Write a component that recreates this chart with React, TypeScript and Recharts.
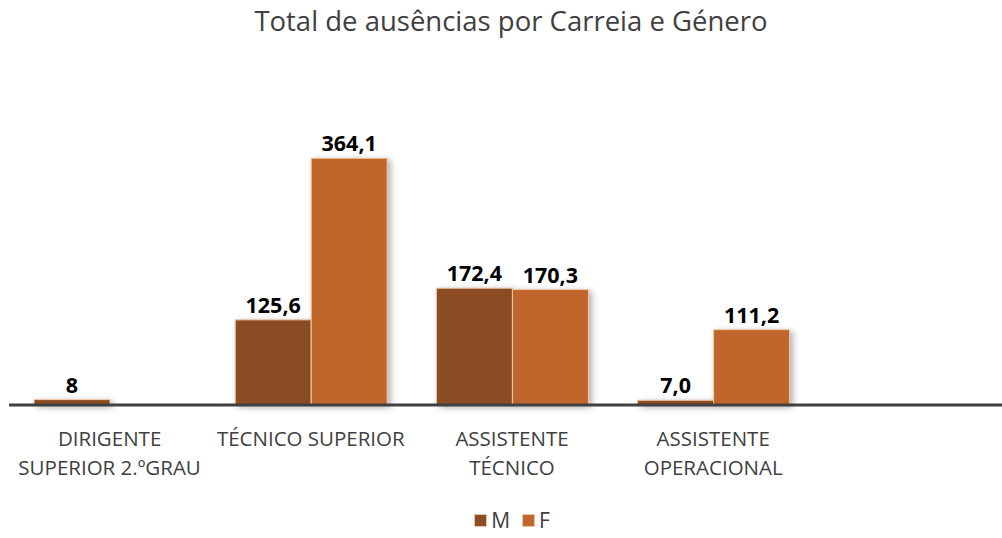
import React from "react";
import { BarChart, Bar, XAxis, YAxis, Legend, LabelList, Rectangle } from "recharts";

const categories = [
  "DIRIGENTE\nSUPERIOR 2.ºGRAU",
  "TÉCNICO SUPERIOR",
  "ASSISTENTE\nTÉCNICO",
  "ASSISTENTE\nOPERACIONAL",
  "",
];
const maleValues: (number | null)[] = [8, 125.6, 172.4, 7.0, null];
const femaleValues: (number | null)[] = [null, 364.1, 170.3, 111.2, null];
const maleLabels = ["8", "125,6", "172,4", "7,0", ""];
const femaleLabels = ["", "364,1", "170,3", "111,2", ""];

const data = categories.map((name, i) => ({
  name,
  M: maleValues[i],
  F: femaleValues[i],
  mLabel: maleLabels[i],
  fLabel: femaleLabels[i],
}));

const M_COLOR = "#8B4C24";
const F_COLOR = "#C0652B";
const TEXT = "#404040";
const FONT = "'Open Sans', sans-serif";

function CategoryTick({ x, y, payload }: any) {
  const lines = String(payload.value).split("\n");
  return (
    <text x={x} y={y} textAnchor="middle" fill={TEXT} fontSize={20.5} fontFamily={FONT}>
      {lines.map((l, i) => (
        <tspan key={i} x={x} dy={i === 0 ? 33 : 29}>
          {l}
        </tspan>
      ))}
    </text>
  );
}

function ShadowBar(props: any) {
  return (
    <Rectangle
      {...props}
      stroke="#F3CBAB"
      strokeWidth={1}
      style={{ filter: "drop-shadow(3px 2px 3px rgba(0,0,0,0.3))" }}
    />
  );
}

function LegendContent() {
  const items = [
    { label: "M", color: M_COLOR },
    { label: "F", color: F_COLOR },
  ];
  return (
    <div style={{ display: "flex", justifyContent: "center", alignItems: "center", height: 36, fontFamily: FONT, color: TEXT, fontSize: 21 }}>
      {items.map((it) => (
        <div key={it.label} style={{ display: "flex", alignItems: "center", margin: "0 6px" }}>
          <span style={{ display: "inline-block", width: 11, height: 11, background: it.color, border: "1px solid #F0C4A4", marginRight: 4 }} />
          <span>{it.label}</span>
        </div>
      ))}
    </div>
  );
}

export default function App() {
  return (
    <div style={{ position: "fixed", left: 0, top: 0, width: 1002, height: 538, background: "#fff", overflow: "hidden" }}>
      <div
        style={{
          position: "absolute",
          top: 2,
          left: 0,
          width: 1022,
          textAlign: "center",
          fontFamily: FONT,
          fontSize: 27.5,
          color: TEXT,
        }}
      >
        Total de ausências por Carreia e Género
      </div>
      <BarChart
        width={1002}
        height={538}
        data={data}
        margin={{ top: 100, right: -13, left: 9, bottom: 0 }}
        barGap={0}
        barCategoryGap={25}
      >
        <YAxis hide domain={[0, 450]} />
        <XAxis
          dataKey="name"
          axisLine={{ stroke: TEXT, strokeWidth: 3 }}
          tickLine={false}
          interval={0}
          height={97}
          tick={<CategoryTick />}
        />
        <Legend verticalAlign="bottom" height={36} content={<LegendContent />} />
        <Bar dataKey="M" fill={M_COLOR} isAnimationActive={false} shape={<ShadowBar />}>
          <LabelList dataKey="mLabel" position="top" fill="#000" fontSize={21.5} fontWeight="bold" fontFamily={FONT} offset={7} />
        </Bar>
        <Bar dataKey="F" fill={F_COLOR} isAnimationActive={false} shape={<ShadowBar />}>
          <LabelList dataKey="fLabel" position="top" fill="#000" fontSize={21.5} fontWeight="bold" fontFamily={FONT} offset={7} />
        </Bar>
      </BarChart>
    </div>
  );
}
